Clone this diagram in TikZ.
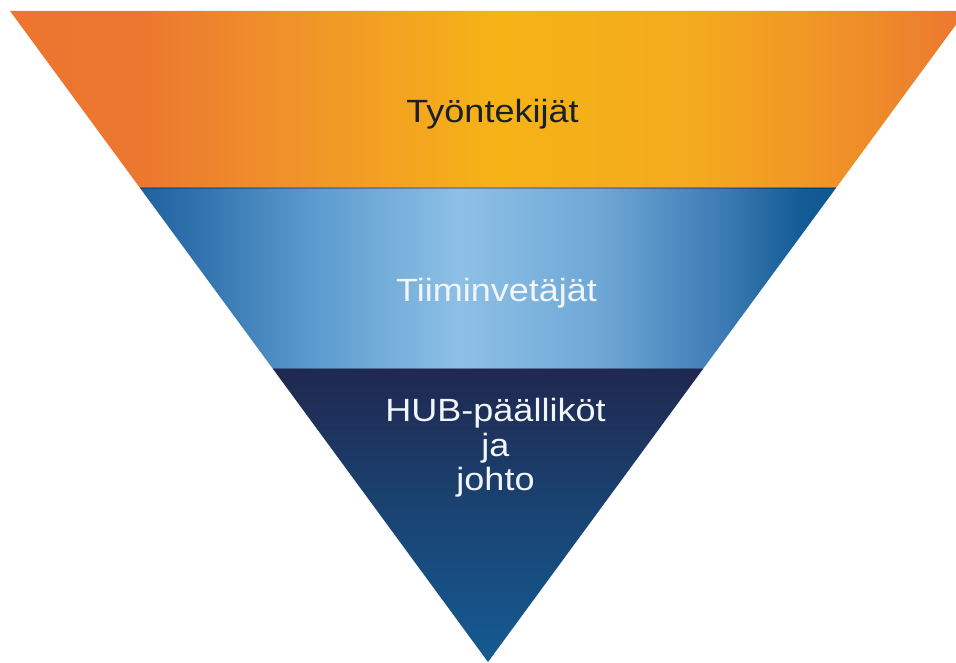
\documentclass[tikz,border=0pt]{standalone}
\usepackage{fontspec}
\newfontfamily\labfont[FakeStretch=1.12]{Liberation Sans}
\definecolor{dkTop}{HTML}{20284F}
\definecolor{dkBot}{HTML}{145B92}
\definecolor{txtDark}{HTML}{1A1F2C}
\definecolor{txtLight}{HTML}{F2F6FA}
% the path's bounding box maps onto 25bp..75bp of the shading
\pgfdeclarehorizontalshading{orshade}{100bp}{%
  color(0bp)=(rgb,255:red,236;green,117;blue,47);
  color(25bp)=(rgb,255:red,236;green,117;blue,47);
  color(32bp)=(rgb,255:red,236;green,120;blue,47);
  color(40bp)=(rgb,255:red,240;green,148;blue,42);
  color(50.5bp)=(rgb,255:red,246;green,179;blue,22);
  color(61bp)=(rgb,255:red,244;green,170;blue,30);
  color(70.5bp)=(rgb,255:red,238;green,138;blue,42);
  color(75bp)=(rgb,255:red,236;green,118;blue,48);
  color(100bp)=(rgb,255:red,236;green,118;blue,48)}
\pgfdeclarehorizontalshading{blshade}{100bp}{%
  color(0bp)=(rgb,255:red,31;green,98;blue,160);
  color(25bp)=(rgb,255:red,31;green,98;blue,160);
  color(29.3bp)=(rgb,255:red,50;green,115;blue,174);
  color(38bp)=(rgb,255:red,94;green,157;blue,208);
  color(48bp)=(rgb,255:red,141;green,192;blue,229);
  color(58bp)=(rgb,255:red,111;green,168;blue,214);
  color(66.5bp)=(rgb,255:red,63;green,125;blue,181);
  color(72.5bp)=(rgb,255:red,19;green,92;blue,149);
  color(75bp)=(rgb,255:red,14;green,88;blue,144);
  color(100bp)=(rgb,255:red,14;green,88;blue,144)}
\tikzset{
  lab/.style={font=\labfont\fontsize{18.3}{21}\selectfont, inner sep=0pt, anchor=base},
}
\begin{document}
\begin{tikzpicture}
\useasboundingbox (0,0) rectangle (19.12,13.26);
\begin{scope}
\clip (0,0) rectangle (19.12,13.26);
% orange band
\path[shading=orshade]
  (0.2,13.04) -- (19.32,13.04) -- (16.72,9.50) -- (2.80,9.50) -- cycle;
% blue band
\path[shading=blshade]
  (2.80,9.50) -- (16.72,9.50) -- (14.06,5.88) -- (5.46,5.88) -- cycle;
% dark band
\path[top color=dkTop, bottom color=dkBot, middle color=dkTop!45!dkBot]
  (5.46,5.88) -- (14.06,5.88) -- (9.76,0.02) -- cycle;
\draw[black, opacity=0.25, line width=0.6pt] (2.80,9.50) -- (16.72,9.50);
\draw[dkTop, opacity=0.4, line width=0.6pt] (5.46,5.88) -- (14.06,5.88);
\end{scope}
\node[lab, text=txtDark] (t1) at (9.85,10.80) {Työntekijät};
\node[lab, text=txtLight] (t2) at (9.93,7.22) {Tiiminvetäjät};
\node[lab, text=txtLight] (t3) at (9.91,4.82) {HUB-päälliköt};
\node[lab, text=txtLight] (t4) at (9.91,4.13) {ja};
\node[lab, text=txtLight] (t5) at (9.91,3.44) {johto};
\end{tikzpicture}
\end{document}
